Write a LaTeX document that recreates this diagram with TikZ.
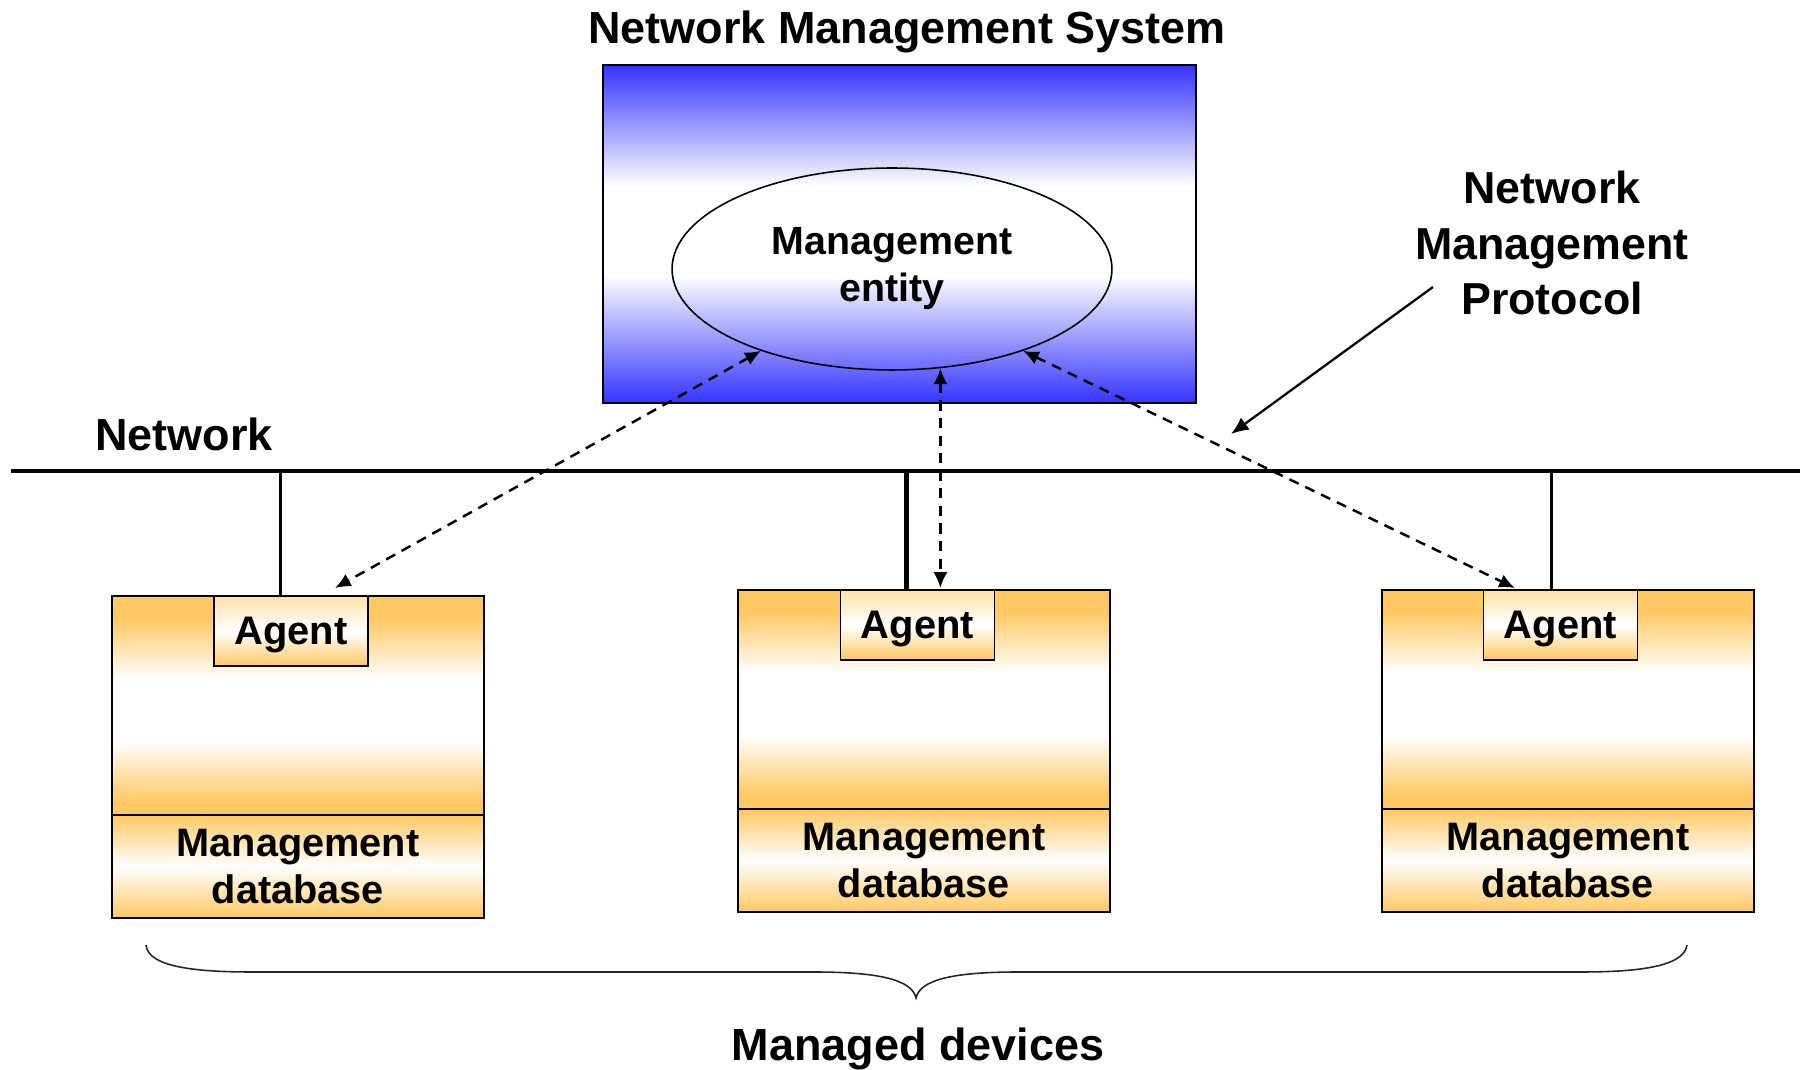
\documentclass[tikz,border=0pt]{standalone}
\usepackage{fontspec}
\setmainfont{Liberation Sans}
\usetikzlibrary{shapes.geometric, positioning, arrows.meta}

\definecolor{nmsblue}{RGB}{52,52,255}
\definecolor{devorange}{RGB}{255,200,98}

\pgfdeclareverticalshading{nmsfade}{100bp}{color(0bp)=(nmsblue); color(25bp)=(nmsblue); color(44bp)=(white); color(57bp)=(white); color(75bp)=(nmsblue); color(100bp)=(nmsblue)}
\pgfdeclareverticalshading{devfade}{100bp}{color(0bp)=(devorange); color(28bp)=(devorange); color(42bp)=(white); color(56bp)=(white); color(70bp)=(devorange); color(100bp)=(devorange)}

\begin{document}
\begin{tikzpicture}[x=0.02cm, y=-0.02cm, >={Latex[length=9pt,width=8pt]},
    title/.style={font=\fontsize{25.6}{30}\selectfont\bfseries, inner sep=0pt},
    nmp/.style={align=center, inner sep=0pt, font=\fontsize{25.5}{31.8}\selectfont\bfseries},
    nms/.style={draw, line width=0.9pt, shading=nmsfade, minimum width=11.86cm, minimum height=6.76cm, inner sep=0pt},
    entity/.style={ellipse, draw, line width=0.9pt, minimum width=8.8cm, minimum height=4.04cm, inner sep=0pt, align=center, font=\fontsize{22.4}{26.7}\selectfont\bfseries},
    devbody/.style={draw, line width=0.9pt, shading=devfade, minimum width=7.44cm, minimum height=4.38cm, outer sep=0pt},
    dbbox/.style={draw, line width=0.9pt, top color=devorange, bottom color=devorange, middle color=white, minimum width=7.44cm, minimum height=2.06cm, outer sep=0pt, align=center, font=\fontsize{22.6}{26.7}\selectfont\bfseries},
    agentbox/.style={draw, line width=0.9pt, top color=devorange!55, bottom color=devorange, middle color=white, minimum width=3.08cm, minimum height=1.4cm, outer sep=0pt, text depth=-1.5pt, font=\fontsize{22.7}{26}\selectfont\bfseries},
    bus/.style={line width=2.3pt},
    drop/.style={line width=1.7pt},
    proto/.style={<->, line width=1.4pt, dash pattern=on 5.8pt off 4.2pt},
    pointer/.style={-{Latex[length=10pt,width=8.5pt]}, line width=1.3pt},
    brace/.style={line width=0.9pt, black!85}]
  \useasboundingbox (0,0) rectangle (1800,1070);

  % management station
  \node[title] (nms_title) at (907,32) {Network Management System};
  \node[nms] (nms_box) at (899.5,234) {};
  \node[entity] (mgmt_entity) at (892,269) {Management\\entity};

  % network bus
  \coordinate (net_west) at (11,471);
  \coordinate (net_east) at (1800,471);
  \draw[bus] (net_west) -- (net_east);
  \node[title] (net_label) at (184,434) {Network};

  % managed devices
  \node[devbody, anchor=north west] (dev_left) at (112,596) {};
  \node[dbbox, below=0pt of dev_left] (db_left) {Management\\database};
  \node[agentbox, anchor=north] (agent_left) at ([xshift=-0.14cm]dev_left.north) {Agent};

  \node[devbody, anchor=north west] (dev_mid) at (738,590) {};
  \node[dbbox, below=0pt of dev_mid] (db_mid) {Management\\database};
  \node[agentbox, anchor=north] (agent_mid) at ([xshift=-0.13cm]dev_mid.north) {Agent};

  \node[devbody, anchor=north west] (dev_right) at (1382,590) {};
  \node[dbbox, below=0pt of dev_right] (db_right) {Management\\database};
  \node[agentbox, anchor=north] (agent_right) at ([xshift=-0.15cm]dev_right.north) {Agent};

  % drops to the bus
  \coordinate (drop_left) at ([xshift=-0.2cm]agent_left.north);
  \coordinate (drop_mid) at ([xshift=-0.22cm]agent_mid.north);
  \coordinate (drop_right) at ([xshift=-0.17cm]agent_right.north);
  \draw[drop] (drop_left) -- (drop_left |- net_west);
  \draw[drop, line width=2.8pt] (drop_mid) -- (drop_mid |- net_west);
  \draw[drop] (drop_right) -- (drop_right |- net_west);

  % protocol exchanges
  \draw[proto] (mgmt_entity.212) -- ([xshift=0.88cm,yshift=0.16cm]agent_left.north);
  \draw[proto] (mgmt_entity.296) -- ([yshift=0.04cm]mgmt_entity.296 |- agent_mid.north);
  \draw[proto] (mgmt_entity.328) -- ([xshift=-0.91cm,yshift=0.04cm]agent_right.north);

  \node[nmp] (nmp_label) at (1552,243) {Network\\Management\\Protocol};
  \coordinate (nmp_tail) at (1433,287);
  \coordinate (nmp_head) at (1231,434);
  \draw[pointer] (nmp_tail) -- (nmp_head);

  % brace under the devices
  \draw[brace] (146,945) .. controls (148,968) and (200,972) .. (253,972) -- (814,972)
    .. controls (880,972) and (912,980) .. (916,998)
    .. controls (920,980) and (952,972) .. (1018,972) -- (1580,972)
    .. controls (1632,972) and (1684,968) .. (1687,945);
  \node[title] (dev_label) at (918,1049) {Managed devices};
\end{tikzpicture}
\end{document}
